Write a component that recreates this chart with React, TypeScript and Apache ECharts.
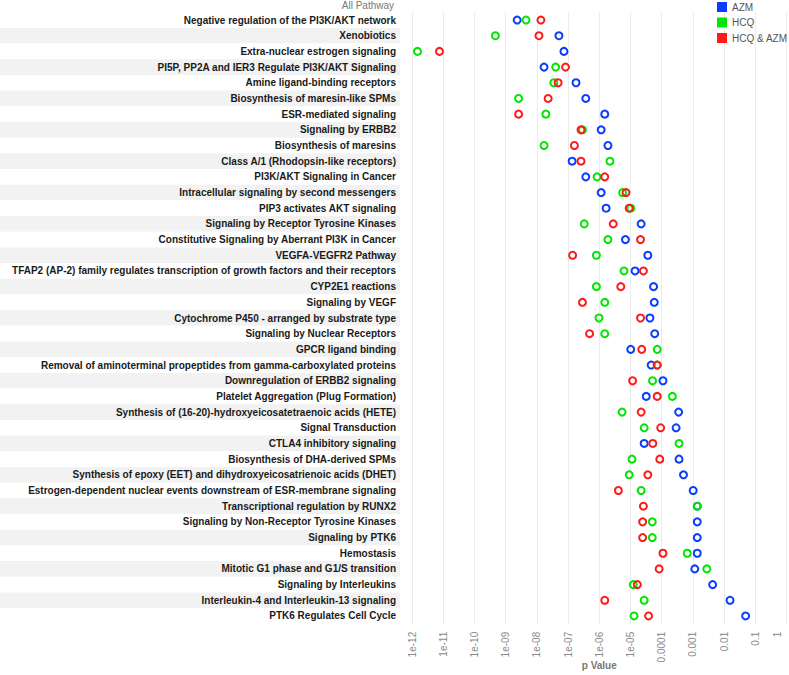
import React, { useEffect, useRef } from "react";
import * as echarts from "echarts";

const categories: string[] = [
  "Negative regulation of the PI3K/AKT network",
  "Xenobiotics",
  "Extra-nuclear estrogen signaling",
  "PI5P, PP2A and IER3 Regulate PI3K/AKT Signaling",
  "Amine ligand-binding receptors",
  "Biosynthesis of maresin-like SPMs",
  "ESR-mediated signaling",
  "Signaling by ERBB2",
  "Biosynthesis of maresins",
  "Class A/1 (Rhodopsin-like receptors)",
  "PI3K/AKT Signaling in Cancer",
  "Intracellular signaling by second messengers",
  "PIP3 activates AKT signaling",
  "Signaling by Receptor Tyrosine Kinases",
  "Constitutive Signaling by Aberrant PI3K in Cancer",
  "VEGFA-VEGFR2 Pathway",
  "TFAP2 (AP-2) family regulates transcription of growth factors and their receptors",
  "CYP2E1 reactions",
  "Signaling by VEGF",
  "Cytochrome P450 - arranged by substrate type",
  "Signaling by Nuclear Receptors",
  "GPCR ligand binding",
  "Removal of aminoterminal propeptides from gamma-carboxylated proteins",
  "Downregulation of ERBB2 signaling",
  "Platelet Aggregation (Plug Formation)",
  "Synthesis of (16-20)-hydroxyeicosatetraenoic acids (HETE)",
  "Signal Transduction",
  "CTLA4 inhibitory signaling",
  "Biosynthesis of DHA-derived SPMs",
  "Synthesis of epoxy (EET) and dihydroxyeicosatrienoic acids (DHET)",
  "Estrogen-dependent nuclear events downstream of ESR-membrane signaling",
  "Transcriptional regulation by RUNX2",
  "Signaling by Non-Receptor Tyrosine Kinases",
  "Signaling by PTK6",
  "Hemostasis",
  "Mitotic G1 phase and G1/S transition",
  "Signaling by Interleukins",
  "Interleukin-4 and Interleukin-13 signaling",
  "PTK6 Regulates Cell Cycle",
];

const azm: number[] = [
  2.34e-9, 5.1e-8, 7.4e-8, 1.7e-8, 1.8e-7, 3.7e-7, 1.5e-6, 1.15e-6, 1.9e-6, 1.35e-7,
  3.7e-7, 1.15e-6, 1.66e-6, 2.2e-5, 6.9e-6, 3.6e-5, 1.4e-5, 5.5e-5, 5.8e-5, 4.2e-5,
  6.0e-5, 1.02e-5, 4.6e-5, 1.1e-4, 3.2e-5, 3.5e-4, 2.9e-4, 2.75e-5, 3.6e-4, 5.0e-4,
  1.02e-3, 1.38e-3, 1.38e-3, 1.38e-3, 1.38e-3, 1.15e-3, 4.3e-3, 1.55e-2, 4.9e-2,
];

const hcq: number[] = [
  4.5e-9, 4.7e-10, 1.5e-12, 4.0e-8, 3.5e-8, 2.6e-9, 1.95e-8, 2.9e-7, 1.7e-8, 2.2e-6,
  8.5e-7, 5.6e-6, 1.02e-5, 3.3e-7, 1.9e-6, 8.1e-7, 6.2e-6, 8.1e-7, 1.5e-6, 9.8e-7,
  1.5e-6, 7.2e-5, 7.2e-5, 5.1e-5, 2.2e-4, 5.4e-6, 2.75e-5, 3.6e-4, 1.12e-5, 9.1e-6,
  2.2e-5, 1.38e-3, 5.0e-5, 5.0e-5, 6.6e-4, 2.8e-3, 1.23e-5, 2.75e-5, 1.3e-5,
];

const hcqAzm: number[] = [
  1.35e-8, 1.17e-8, 7.6e-12, 8.3e-8, 4.8e-8, 2.3e-8, 2.6e-9, 2.6e-7, 1.6e-7, 2.6e-7,
  1.5e-6, 7.2e-6, 9.1e-6, 2.8e-6, 2.1e-5, 1.4e-7, 2.6e-5, 4.9e-6, 2.9e-7, 2.1e-5,
  4.9e-7, 2.3e-5, 7.2e-5, 1.17e-5, 7.2e-5, 2.2e-5, 9.3e-5, 5.2e-5, 8.7e-5, 3.6e-5,
  4.1e-6, 2.6e-5, 2.45e-5, 2.45e-5, 1.1e-4, 8.3e-5, 1.66e-5, 1.5e-6, 3.8e-5,
];

const seriesNames: string[] = ["AZM", "HCQ", "HCQ & AZM"];
const seriesColors: string[] = ["#0a3cff", "#00e600", "#ff1a1a"];

const tickLabels: string[] = [
  "1e-12", "1e-11", "1e-10", "1e-09", "1e-08", "1e-07", "1e-06", "1e-05",
  "0.0001", "0.001", "0.01", "0.1", "1",
];

const FONT = "'Liberation Sans', Arial, Helvetica, sans-serif";

export default function App() {
  const ref = useRef<HTMLDivElement>(null);

  useEffect(() => {
    if (!ref.current) return;
    const chart = echarts.init(ref.current, undefined, { renderer: "svg" });
    const values = [azm, hcq, hcqAzm];
    const gridTop = 12.2;
    const gridBottom = 51.2;

    chart.setOption({
      animation: false,
      backgroundColor: "#ffffff",
      textStyle: { fontFamily: FONT },
      grid: [
        { left: 412, right: 2.5, top: gridTop, bottom: gridBottom, outerBoundsMode: "none", containLabel: false },
        { left: 0, width: 400, top: gridTop, bottom: gridBottom, outerBoundsMode: "none", containLabel: false },
      ],
      legend: {
        data: seriesNames.map((n, i) => ({
          name: n,
          itemStyle: { color: seriesColors[i], borderWidth: 0 },
        })),
        orient: "vertical",
        left: 717,
        top: 0,
        padding: [2, 0, 0, 0],
        icon: "rect",
        itemWidth: 10,
        itemHeight: 10,
        itemGap: 5.5,
        textStyle: { fontSize: 10, color: "#555", fontFamily: FONT },
      },
      graphic: [
        {
          type: "text",
          right: 789 - 394,
          top: 0,
          style: {
            text: "All Pathway",
            fill: "#777",
            fontSize: 10,
            fontFamily: FONT,
          },
        },
      ],
      xAxis: [
        {
          type: "log",
          logBase: 10,
          min: 1e-12,
          max: 1,
          interval: 1,
          splitNumber: 12,
          gridIndex: 0,
          name: "p Value",
          nameLocation: "middle",
          nameGap: 37,
          nameMoveOverlap: false,
          nameTextStyle: { fontSize: 10, color: "#777", fontWeight: "bold", fontFamily: FONT },
          axisLine: { show: false },
          axisTick: { show: false },
          splitLine: { show: true, lineStyle: { color: "#ebebeb", width: 1 } },
          minorSplitLine: { show: false },
          axisLabel: {
            rotate: 90,
            margin: 8,
            fontSize: 10,
            color: "#8a8a8a",
            fontFamily: FONT,
            showMinLabel: true,
            showMaxLabel: true,
            hideOverlap: false,
            formatter: (v: number) => {
              const e = Math.round(Math.log10(v));
              const lab = tickLabels[e + 12] ?? String(v);
              return e === 0 ? "{one|" + lab + "}" : lab;
            },
            rich: {
              one: { fontSize: 10, color: "#8a8a8a", padding: [0, 0, 19, 0] },
            },
          },
        },
        { type: "value", gridIndex: 1, show: false, min: 0, max: 1 },
      ],
      yAxis: [
        {
          type: "category",
          gridIndex: 0,
          data: categories,
          inverse: true,
          axisLine: { show: false },
          axisTick: { show: false },
          splitLine: { show: false },
          axisLabel: {
            margin: 16,
            fontSize: 10,
            fontWeight: "bold",
            color: "#1a1a1a",
            fontFamily: FONT,
            interval: 0,
          },
          z: 5,
        },
        {
          type: "category",
          gridIndex: 1,
          data: categories,
          inverse: true,
          axisLine: { show: false },
          axisTick: { show: false },
          axisLabel: { show: false },
          splitLine: { show: false },
          splitArea: {
            show: true,
            interval: 0,
            areaStyle: { color: ["#ffffff", "#f2f2f2"] },
          },
          z: -1,
        },
      ],
      series: seriesNames.map((name, si) => ({
        name,
        type: "scatter",
        xAxisIndex: 0,
        yAxisIndex: 0,
        symbol: "circle",
        symbolSize: 7,
        itemStyle: {
          color: "rgba(255,255,255,0)",
          borderColor: seriesColors[si],
          borderWidth: 2,
          opacity: 1,
        },
        emphasis: { disabled: true },
        data: values[si].map((v, i) => [v, categories[i]]),
      })),
    });

    return () => chart.dispose();
  }, []);

  return (
    <div
      ref={ref}
      style={{ position: "fixed", left: 0, top: 0, width: 789, height: 675 }}
    />
  );
}
